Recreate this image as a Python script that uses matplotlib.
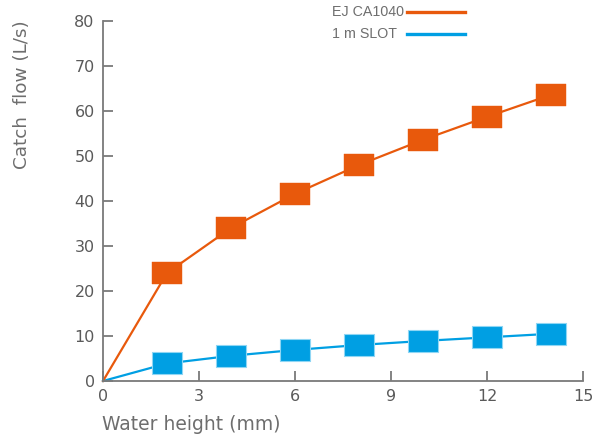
import matplotlib
matplotlib.use("Agg")
import matplotlib.pyplot as plt
from matplotlib.lines import Line2D

water_height = [0, 2, 4, 6, 8, 10, 12, 14]
ej_ca1040 = [0, 24.0, 34.0, 41.6, 48.0, 53.6, 58.7, 63.6]
slot_1m = [0, 3.9, 5.6, 6.9, 8.0, 8.9, 9.7, 10.5]
x_ticks = [0, 3, 6, 9, 12, 15]
y_ticks = [0, 10, 20, 30, 40, 50, 60, 70, 80]
series_labels = ["EJ CA1040", "1 m SLOT"]

ORANGE = "#E8590C"
BLUE = "#009FE3"
GREY = "#6e6e6e"

fig = plt.figure(figsize=(6.01, 4.40), dpi=100)
ax = fig.add_axes([103/601, 1-381/440, 480/601, 360/440])

rect = [(-1, -22/30), (1, -22/30), (1, 22/30), (-1, 22/30), (-1, -22/30)]

ax.plot(water_height, slot_1m, color=BLUE, lw=1.6, marker=rect, markersize=22,
        markevery=list(range(1, len(water_height))), markerfacecolor=BLUE,
        markeredgecolor="#8fd6f4", markeredgewidth=0.8, clip_on=False)
ax.plot(water_height, ej_ca1040, color=ORANGE, lw=1.6, marker=rect, markersize=21.6,
        markevery=list(range(1, len(water_height))), markerfacecolor=ORANGE,
        markeredgecolor=ORANGE, markeredgewidth=0.3, clip_on=False)

ax.set_xlim(0, 15)
ax.set_ylim(0, 80)
ax.set_xticks(x_ticks)
ax.set_yticks(y_ticks)
for s in ["top", "right"]:
    ax.spines[s].set_visible(False)
for s in ["left", "bottom"]:
    ax.spines[s].set_color("#7a7a7a")
    ax.spines[s].set_linewidth(1.3)
ax.tick_params(direction="in", length=7, width=1.3, color="#7a7a7a",
               labelsize=11.5, labelcolor="#5a5a5a", pad=6)

fig.text(22/601, 1-95/440, "Catch  flow (L/s)", rotation=90, ha="center", va="center",
         fontsize=13.2, color=GREY, family="DejaVu Sans")
fig.text(102/601, 1-424/440, "Water height (mm)", ha="left", va="center",
         fontsize=13.5, color=GREY, family="DejaVu Sans")

# legend (text left, line right)
legend_y = [12.5, 34.5]
legend_colors = [ORANGE, BLUE]
for lab, yy, c in zip(series_labels, legend_y, legend_colors):
    fig.text(332/601, 1-yy/440, lab, ha="left", va="center", fontsize=10.3,
             color=GREY, family="Liberation Sans")
    fig.add_artist(Line2D([407/601, 465/601], [1-yy/440, 1-yy/440],
                          transform=fig.transFigure, color=c, lw=2.4))

fig.savefig("out.png", dpi=100)
